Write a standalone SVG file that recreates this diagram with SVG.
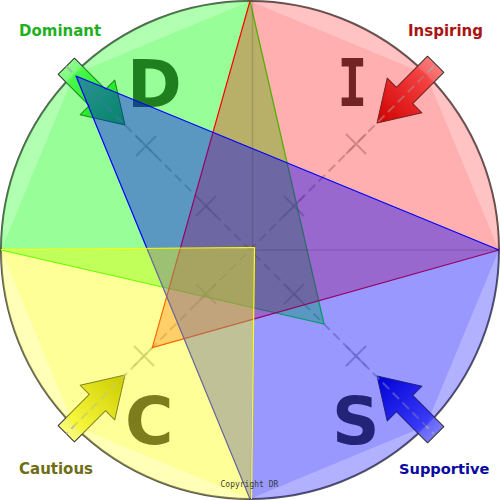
<svg xmlns="http://www.w3.org/2000/svg" width="500" height="500" viewBox="0 0 500 500">
<style>
.lbl{font-family:"DejaVu Sans",Verdana,sans-serif;font-weight:bold;font-size:15px}
.big{font-family:"DejaVu Sans",Verdana,sans-serif;font-weight:bold;font-size:66px}
.arr{stroke:#333;stroke-width:1;stroke-linejoin:round}
.dash{stroke:#AAAAAA;stroke-opacity:0.7;stroke-width:2;stroke-dasharray:9 5;fill:none}
.tick{stroke:#AAAAAA;stroke-opacity:0.7;stroke-width:2;fill:none}
.edge{fill:none;stroke-width:1.2;stroke-linejoin:round}
</style>
<defs>
<linearGradient id="gD" gradientUnits="userSpaceOnUse" x1="-83" y1="0" x2="0" y2="0"><stop offset="0" stop-color="#8CFF8C"/><stop offset="1" stop-color="#10C810"/></linearGradient>
<linearGradient id="gI" gradientUnits="userSpaceOnUse" x1="-83" y1="0" x2="0" y2="0"><stop offset="0" stop-color="#FF7878"/><stop offset="1" stop-color="#BC0000"/></linearGradient>
<linearGradient id="gC" gradientUnits="userSpaceOnUse" x1="-83" y1="0" x2="0" y2="0"><stop offset="0" stop-color="#FFFF78"/><stop offset="1" stop-color="#AAAA00"/></linearGradient>
<linearGradient id="gS" gradientUnits="userSpaceOnUse" x1="-83" y1="0" x2="0" y2="0"><stop offset="0" stop-color="#7878FF"/><stop offset="1" stop-color="#0000BC"/></linearGradient>
<path id="arrowShape" d="M0,0 L-39,-24.5 L-39,-11.5 L-83,-11.5 L-83,11.5 L-39,11.5 L-39,24.5 Z"/>
</defs>
<rect width="500" height="500" fill="#FFFFFF"/>
<circle cx="250" cy="250" r="249" fill="none" stroke="#5A5A5A" stroke-width="2"/>

<g id="arrows">
<use href="#arrowShape" class="arr" fill="url(#gD)" transform="translate(125,125) rotate(45)"/>
<use href="#arrowShape" class="arr" fill="url(#gI)" transform="translate(377,123) rotate(135)"/>
<use href="#arrowShape" class="arr" fill="url(#gS)" transform="translate(377,376) rotate(225)"/>
<use href="#arrowShape" class="arr" fill="url(#gC)" transform="translate(125,375) rotate(-45)"/>
</g>

<g id="axes">
<path class="dash" d="M66,66 L434,434 M434,66 L66,434"/>
<path class="tick" d="M136,156 L156,136 M136,136 L156,156 M196,216 L216,196 M196,196 L216,216 M284,304 L304,284 M284,284 L304,304 M346,366 L366,346 M346,346 L366,366"/>
<path class="tick" d="M346,134 L366,154 M346,154 L366,134 M284,196 L304,216 M284,216 L304,196 M196,284 L216,304 M196,304 L216,284 M134,346 L154,366 M134,366 L154,346"/>
</g>

<g id="node-D">
<g opacity="0.4" fill="#00FF00">
<polygon points="250,250 250,1 73.93,73.93 1,250"/>
<polygon points="250,1 324,324 1,250"/>
</g>
<g opacity="0.3" fill="#00FF00">
<path d="M1,250 A249,249 0 0,1 73.93,73.93 Z"/>
<path d="M73.93,73.93 A249,249 0 0,1 250,1 Z"/>
</g>
<text class="big" x="127" y="107" fill="#1F7F1F">D</text>
<polyline class="edge" stroke="#00FF00" points="250,1 324,324 1,250"/>
</g>

<g id="node-I">
<g opacity="0.31" fill="#FF0000">
<polygon points="250,250 250,1 426.07,73.93 499,250"/>
<polygon points="250,1 152.3,347.7 499,250"/>
</g>
<g opacity="0.23" fill="#FF0000">
<path d="M250,1 A249,249 0 0,1 426.07,73.93 Z"/>
<path d="M426.07,73.93 A249,249 0 0,1 499,250 Z"/>
</g>
<text x="0" y="0" transform="translate(352.5,106) scale(0.75,1)" text-anchor="middle" style="font-family:'DejaVu Sans Mono',monospace;font-weight:bold;font-size:66px" fill="#732323">I</text>
<polyline class="edge" stroke="#FF0000" points="250,1 152.3,347.7 499,250"/>
</g>

<g id="node-S">
<g opacity="0.4" fill="#0000FF">
<polygon points="250,250 499,250 426.07,426.07 250,499"/>
<polygon points="499,250 76,76 250,499"/>
</g>
<g opacity="0.3" fill="#0000FF">
<path d="M499,250 A249,249 0 0,1 426.07,426.07 Z"/>
<path d="M426.07,426.07 A249,249 0 0,1 250,499 Z"/>
</g>
<text class="big" x="332" y="444" fill="#232378">S</text>
<polyline class="edge" stroke="#0000FF" points="499,250 76,76 250,499"/>
</g>

<g id="dividers">
<path d="M252.5,1 V250 H499" fill="none" stroke="#000" stroke-opacity="0.12" stroke-width="1.5"/>
</g>

<g id="node-C">
<g opacity="0.4" fill="#FFFF00">
<polygon points="250,250 250,499 73.93,426.07 1,250"/>
<polygon points="1,250 254.5,247.5 250,499"/>
</g>
<g opacity="0.28" fill="#FFFF00">
<path d="M250,499 A249,249 0 0,1 73.93,426.07 Z"/>
<path d="M73.93,426.07 A249,249 0 0,1 1,250 Z"/>
</g>
<text class="big" x="125" y="444" fill="#7D7D1E">C</text>
<polyline class="edge" stroke="#FFFF00" stroke-width="1.8" points="1,249.5 254.5,247.5 251.5,499"/>
</g>

<g id="labels">
<text class="lbl" x="19" y="36" fill="#1FAF1F">Dominant</text>
<text class="lbl" x="408" y="36" fill="#AA1414">Inspiring</text>
<text class="lbl" x="19" y="474" fill="#6E6E14">Cautious</text>
<text class="lbl" x="399" y="474" style="font-size:14.6px" fill="#0A0AA0">Supportive</text>
<text x="220.5" y="487" style="font-family:'DejaVu Sans Mono',monospace;font-size:8px" fill="#3C3C3C">Copyright DR</text>
</g>
</svg>
